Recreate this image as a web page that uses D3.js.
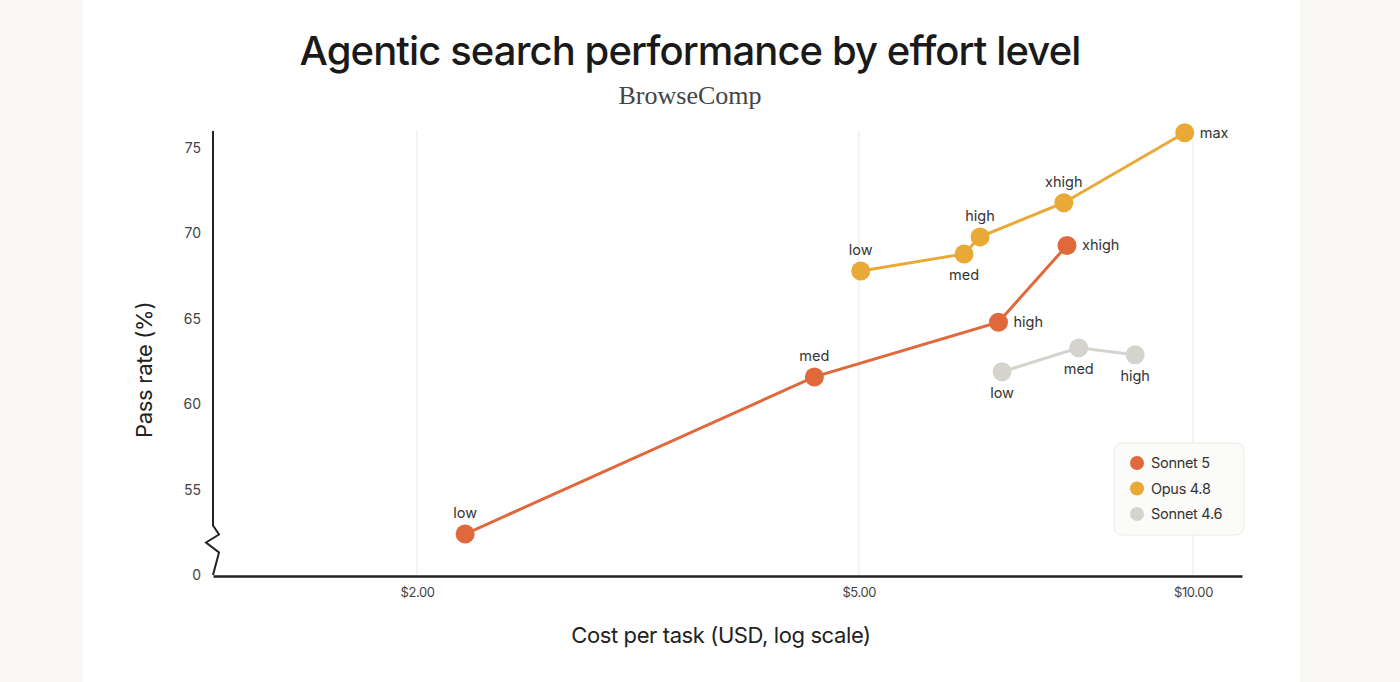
<!DOCTYPE html>
<html>
<head>
<meta charset="utf-8">
<script src="https://cdn.jsdelivr.net/npm/d3@7"></script>
<style>
  html, body { margin: 0; padding: 0; background: #f9f8f5; }
  svg { display: block; }
</style>
</head>
<body>
<svg id="chart" width="1400" height="682"></svg>
<script>
// ---- data ----
const seriesNames = ["Sonnet 5", "Opus 4.8", "Sonnet 4.6"];
const seriesColors = ["#e0693b", "#e8a936", "#d5d3ce"];

const sonnet5Levels = ["low", "med", "high", "xhigh"];
const sonnet5Cost   = [2.21, 4.56, 6.68, 7.70];
const sonnet5Pass   = [52.4, 61.6, 64.8, 69.3];
const sonnet5LabelPos = ["above", "above", "right", "right"];

const opus48Levels = ["low", "med", "high", "xhigh", "max"];
const opus48Cost   = [5.02, 6.22, 6.43, 7.65, 9.83];
const opus48Pass   = [67.8, 68.8, 69.8, 71.8, 75.9];
const opus48LabelPos = ["above", "below", "above", "above", "right"];

const sonnet46Levels = ["low", "med", "high"];
const sonnet46Cost   = [6.73, 7.89, 8.87];
const sonnet46Pass   = [61.9, 63.3, 62.9];
const sonnet46LabelPos = ["below", "below", "below"];

const xTickValues = [2, 5, 10];
const xTickLabels = ["$2.00", "$5.00", "$10.00"];
const yTickValues = [50, 55, 60, 65, 70, 75];
const yTickLabels = ["0", "55", "60", "65", "70", "75"];

const titleText = "Agentic search performance by effort level";
const subtitleText = "BrowseComp";
const xAxisTitle = "Cost per task (USD, log scale)";
const yAxisTitle = "Pass rate (%)";

// ---- build ----
const series = [
  {name: seriesNames[0], color: seriesColors[0], levels: sonnet5Levels, cost: sonnet5Cost, pass: sonnet5Pass, pos: sonnet5LabelPos},
  {name: seriesNames[1], color: seriesColors[1], levels: opus48Levels, cost: opus48Cost, pass: opus48Pass, pos: opus48LabelPos},
  {name: seriesNames[2], color: seriesColors[2], levels: sonnet46Levels, cost: sonnet46Cost, pass: sonnet46Pass, pos: sonnet46LabelPos}
].map(s => ({...s, points: s.cost.map((c, i) => ({cost: c, pass: s.pass[i], level: s.levels[i], pos: s.pos[i]}))}));

const svg = d3.select("#chart");

// card
svg.append("rect").attr("x", 83).attr("y", -20).attr("width", 1217).attr("height", 730)
  .attr("rx", 26).attr("fill", "#ffffff");

const pLeft = 213, pRight = 1242, pTop = 131, pBottom = 575;

const x = d3.scaleLog().domain([1.31, 11.07]).range([pLeft, pRight]);
const y = d3.scaleLinear().domain([50, 76]).range([pBottom, pTop]);

const sans = "Inter, 'Open Sans', 'Liberation Sans', sans-serif";

// title
svg.append("text").attr("x", 690).attr("y", 65).attr("text-anchor", "middle")
  .attr("font-family", sans).attr("font-size", 40).attr("font-weight", 500)
  .attr("letter-spacing", "-0.9px").attr("fill", "#1a1a1a").text(titleText);
svg.append("text").attr("x", 690).attr("y", 104).attr("text-anchor", "middle")
  .attr("font-family", "'Liberation Serif', 'DejaVu Serif', serif").attr("font-size", 26)
  .attr("fill", "#444").text(subtitleText);

// gridlines
svg.append("g").selectAll("line").data(xTickValues).join("line")
  .attr("x1", d => x(d)).attr("x2", d => x(d)).attr("y1", pTop).attr("y2", pBottom)
  .attr("stroke", "#ecebe8").attr("stroke-width", 1.2);

// x axis
const xAxis = d3.axisBottom(x).tickValues(xTickValues)
  .tickFormat((d, i) => xTickLabels[i]).tickSize(0).tickPadding(12);
const gx = svg.append("g").attr("transform", `translate(0,${pBottom + 1})`).call(xAxis);
gx.select(".domain").attr("stroke", "#222").attr("stroke-width", 2.5);
gx.selectAll("text").attr("font-family", sans).attr("font-size", 13).attr("fill", "#444")
  .attr("letter-spacing", "-0.4px");

// y axis (domain drawn manually with break)
const yAxis = d3.axisLeft(y).tickValues(yTickValues)
  .tickFormat((d, i) => yTickLabels[i]).tickSize(0).tickPadding(12);
const gy = svg.append("g").attr("transform", `translate(${pLeft},0)`).call(yAxis);
gy.select(".domain").remove();
gy.selectAll("text").attr("font-family", sans).attr("font-size", 14).attr("fill", "#444");

const breakTop = y(52.9);
svg.append("path")
  .attr("d", `M${pLeft},${pTop} L${pLeft},${breakTop} L${pLeft + 6},${breakTop + 9} L${pLeft - 7},${breakTop + 17} L${pLeft + 6},${breakTop + 27} L${pLeft},${pBottom}`)
  .attr("fill", "none").attr("stroke", "#222").attr("stroke-width", 2).attr("stroke-linejoin", "miter");

// axis titles
svg.append("text").attr("x", 721).attr("y", 643).attr("text-anchor", "middle")
  .attr("font-family", sans).attr("font-size", 22).attr("fill", "#222")
  .attr("letter-spacing", "-0.4px").text(xAxisTitle);
svg.append("text").attr("transform", `translate(152,${370}) rotate(-90)`).attr("text-anchor", "middle")
  .attr("font-family", sans).attr("font-size", 22).attr("fill", "#222")
  .attr("letter-spacing", "-0.3px").text(yAxisTitle);

// lines & points
const line = d3.line().x(d => x(d.cost)).y(d => y(d.pass));
const gSeries = svg.append("g").selectAll("g").data(series).join("g");
gSeries.append("path").attr("d", d => line(d.points)).attr("fill", "none")
  .attr("stroke", d => d.color).attr("stroke-width", 3);
gSeries.selectAll("circle").data(d => d.points.map(p => ({...p, color: d.color}))).join("circle")
  .attr("cx", d => x(d.cost)).attr("cy", d => y(d.pass)).attr("r", 9.5)
  .attr("fill", d => d.color);
gSeries.selectAll("text").data(d => d.points).join("text")
  .attr("x", d => d.pos === "right" ? x(d.cost) + 15 : x(d.cost))
  .attr("y", d => d.pos === "above" ? y(d.pass) - 16 : d.pos === "below" ? y(d.pass) + 26 : y(d.pass) + 5)
  .attr("text-anchor", d => d.pos === "right" ? "start" : "middle")
  .attr("font-family", sans).attr("font-size", 14.5).attr("fill", "#333")
  .text(d => d.level);

// legend
const lg = svg.append("g").attr("transform", "translate(1114,443)");
lg.append("rect").attr("width", 130).attr("height", 92).attr("rx", 8)
  .attr("fill", "#fbfbf9").attr("stroke", "#ebe9e4");
const li = lg.selectAll("g").data(series).join("g")
  .attr("transform", (d, i) => `translate(23,${20 + i * 25.5})`);
li.append("circle").attr("r", 7).attr("fill", d => d.color);
li.append("text").attr("x", 14).attr("y", 5).attr("font-family", sans).attr("font-size", 14.5)
  .attr("fill", "#333").attr("letter-spacing", "-0.3px").text(d => d.name);
</script>
</body>
</html>
